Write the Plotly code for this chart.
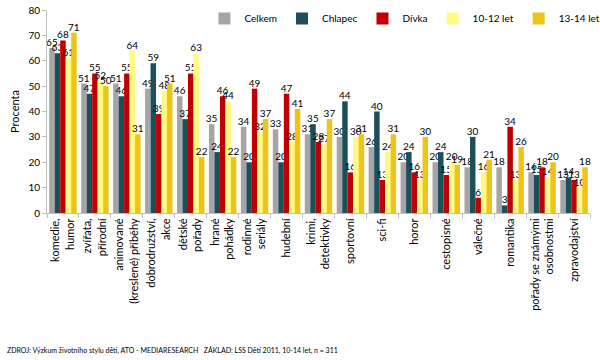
import plotly.graph_objects as go

categories = [
    "komedie,<br>humor",
    "zvířata,<br>přírodní",
    "animované<br>(kreslené) příběhy",
    "dobrodružství,<br>akce",
    "dětské<br>pořady",
    "hrané<br>pohádky",
    "rodinné<br>seriály",
    "hudební",
    "krimi,<br>detektivky",
    "sportovní",
    "sci-fi",
    "horor",
    "cestopisné",
    "válečné",
    "romantika",
    "pořady se známými<br>osobnostmi",
    "zpravodajství",
]

celkem  = [65, 51, 51, 49, 46, 35, 34, 33, 31, 30, 26, 20, 20, 18, 18, 16, 13]
chlapec = [63, 47, 46, 59, 37, 24, 20, 20, 35, 44, 40, 24, 24, 30, 3, 15, 14]
divka   = [68, 55, 55, 39, 55, 46, 49, 47, 28, 16, 13, 16, 15, 6, 34, 18, 13]
let1012 = [61, 52, 64, 48, 63, 44, 32, 28, 27, 30, 24, 13, 20, 16, 13, 14, 10]
let1314 = [71, 50, 31, 51, 22, 22, 37, 41, 37, 31, 31, 30, 19, 21, 26, 20, 18]

series = [
    ("Celkem", celkem, "#A5A5A5"),
    ("Chlapec", chlapec, "#1E4D5C"),
    ("Dívka", divka, "#C00000"),
    ("10-12 let", let1012, "#FFFA80"),
    ("13-14 let", let1314, "#EDC418"),
]

FONT = "Lato, Open Sans, sans-serif"

fig = go.Figure()
for name, vals, col in series:
    fig.add_trace(go.Bar(
        name=name, x=categories, y=vals,
        marker=dict(color=col, line=dict(width=0)),
        text=[str(v) for v in vals], textposition="outside",
        textfont=dict(size=10, color="black", family=FONT),
        constraintext="none", cliponaxis=False,
    ))

fig.update_layout(
    width=600, height=360,
    margin=dict(l=47, r=10, t=10, b=147, autoexpand=False),
    barmode="group", bargap=0.14, bargroupgap=0,
    plot_bgcolor="white", paper_bgcolor="white",
    font=dict(family=FONT, size=11, color="black"),
    showlegend=True,
    legend=dict(orientation="h", x=0.29, y=1.03, xanchor="left", yanchor="top",
                font=dict(size=10, family=FONT), itemwidth=30,
                bgcolor="rgba(0,0,0,0)", traceorder="normal"),
    xaxis=dict(tickangle=-90, showline=True, linecolor="#BFBFBF", linewidth=1,
               ticks="outside", ticklen=4, tickcolor="#BFBFBF", tickson="boundaries",
               tickfont=dict(size=11, family=FONT), showgrid=False, automargin=False),
    yaxis=dict(range=[0, 80], dtick=10, showgrid=False, showline=True, linecolor="#BFBFBF",
               ticks="outside", ticklen=4, tickcolor="#BFBFBF", automargin=False,
               tickfont=dict(size=10, family=FONT),
               title=dict(text="Procenta", font=dict(size=11, family=FONT), standoff=6)),
    annotations=[dict(
        text="ZDROJ: Výzkum životního stylu dětí, ATO - MEDIARESEARCH&nbsp;&nbsp;&nbsp;ZÁKLAD: LSS Dětí 2011, 10-14 let, n = 311",
        xref="paper", yref="paper", x=-0.077, y=-0.675, xanchor="left", yanchor="middle",
        showarrow=False, font=dict(size=7, family=FONT, color="black"))],
)

fig.write_html("out.html", config={"displayModeBar": False},
               post_script="document.body.style.margin='0';document.body.style.overflow='hidden';")
